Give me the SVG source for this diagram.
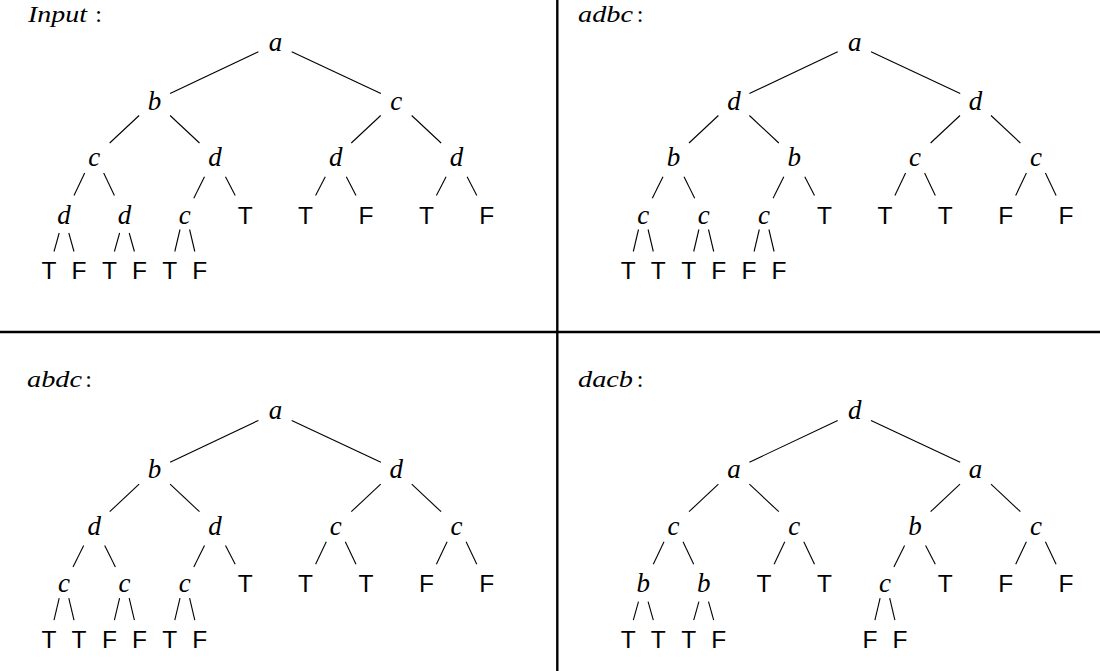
<svg xmlns="http://www.w3.org/2000/svg" width="1100" height="671" viewBox="0 0 1100 671">
<style>
.bg{fill:#fff}
.rule{stroke:#000;stroke-width:2.4;fill:none}
.edges line{stroke:#000;stroke-width:1.1;stroke-linecap:butt}
.v{font-family:"Liberation Serif","Times New Roman",serif;font-style:italic;font-size:27px;text-anchor:middle;fill:#000}
.t{font-family:"Liberation Sans",Arial,sans-serif;font-size:24.5px;text-anchor:middle;fill:#000}
.lbl{font-family:"Liberation Serif","Times New Roman",serif;font-style:italic;font-size:24px;fill:#000}
.col{font-family:"Liberation Serif","Times New Roman",serif;font-size:24px;text-anchor:middle;fill:#000}
</style>
<rect class="bg" x="0" y="0" width="1100" height="671"/>
<g id="rules">
<line class="rule" x1="557.3" y1="0" x2="557.3" y2="671"/>
<line class="rule" x1="0" y1="332" x2="1100" y2="332"/>
</g>
<g id="labels">
<text class="lbl" x="28" y="21.5" textLength="59" lengthAdjust="spacingAndGlyphs">Input</text><text class="col" x="98.5" y="21.5">:</text>
<text class="lbl" x="578" y="21.5" textLength="55" lengthAdjust="spacingAndGlyphs">adbc</text><text class="col" x="640" y="21.5">:</text>
<text class="lbl" x="27" y="387.3" textLength="55" lengthAdjust="spacingAndGlyphs">abdc</text><text class="col" x="88.5" y="387.3">:</text>
<text class="lbl" x="578" y="387.3" textLength="55" lengthAdjust="spacingAndGlyphs">dacb</text><text class="col" x="640" y="387.3">:</text>
</g>

<!-- Panel 1: Input -->
<g id="panel-input">
<g id="p1-edges" class="edges">
<line x1="258.4" y1="51.7" x2="170.1" y2="93.5"/><line x1="291.7" y1="51.7" x2="380.9" y2="93.5"/>
<line x1="139.1" y1="115.5" x2="109.7" y2="143"/><line x1="170.1" y1="115.5" x2="199.5" y2="143"/>
<line x1="380.7" y1="115.5" x2="351.3" y2="143"/><line x1="411.7" y1="115.5" x2="441.1" y2="143"/>
<line x1="84.7" y1="173" x2="74" y2="195.5"/><line x1="103.7" y1="173" x2="114.4" y2="195.5"/>
<line x1="204.5" y1="176.7" x2="193.8" y2="198.3"/><line x1="225.5" y1="176.7" x2="235.2" y2="195.5"/>
<line x1="325.3" y1="176.7" x2="315.6" y2="195.5"/><line x1="346.3" y1="176.7" x2="356" y2="195.5"/>
<line x1="446.1" y1="176.7" x2="436.4" y2="195.5"/><line x1="467.1" y1="176.7" x2="476.8" y2="195.5"/>
<line x1="59.2" y1="233" x2="54" y2="251.5"/><line x1="68.8" y1="233" x2="74" y2="251.5"/>
<line x1="119.6" y1="233" x2="114.4" y2="251.5"/><line x1="129.2" y1="233" x2="134.4" y2="251.5"/>
<line x1="180" y1="229.5" x2="174.8" y2="251.5"/><line x1="189.6" y1="229.5" x2="194.8" y2="251.5"/>
</g>
<g id="p1-n1"><text class="v" x="275.4" y="50.5">a</text></g>
<g id="p1-n2"><text class="v" x="154.6" y="109.5">b</text></g>
<g id="p1-n3"><text class="v" x="396.2" y="109.5">c</text></g>
<g id="p1-n4"><text class="v" x="94.2" y="166">c</text></g>
<g id="p1-n5"><text class="v" x="215" y="166">d</text></g>
<g id="p1-n6"><text class="v" x="335.8" y="166">d</text></g>
<g id="p1-n7"><text class="v" x="456.6" y="166">d</text></g>
<g id="p1-n8"><text class="v" x="64" y="223.5">d</text></g>
<g id="p1-n9"><text class="v" x="124.4" y="223.5">d</text></g>
<g id="p1-n10"><text class="v" x="184.8" y="223.5">c</text></g>
<g id="p1-n11"><text class="t" x="245.2" y="223.5">T</text></g>
<g id="p1-n12"><text class="t" x="305.6" y="223.5">T</text></g>
<g id="p1-n13"><text class="t" x="366" y="223.5">F</text></g>
<g id="p1-n14"><text class="t" x="426.4" y="223.5">T</text></g>
<g id="p1-n15"><text class="t" x="486.8" y="223.5">F</text></g>
<g id="p1-n16"><text class="t" x="49" y="279.3">T</text></g>
<g id="p1-n17"><text class="t" x="79" y="279.3">F</text></g>
<g id="p1-n18"><text class="t" x="109.4" y="279.3">T</text></g>
<g id="p1-n19"><text class="t" x="139.4" y="279.3">F</text></g>
<g id="p1-n20"><text class="t" x="169.8" y="279.3">T</text></g>
<g id="p1-n21"><text class="t" x="199.8" y="279.3">F</text></g>
</g>

<!-- Panel 2: adbc -->
<g id="panel-adbc" transform="translate(579.3,0)">
<g id="p2-edges" class="edges">
<line x1="258.4" y1="51.7" x2="170.1" y2="93.5"/><line x1="291.7" y1="51.7" x2="380.9" y2="93.5"/>
<line x1="139.1" y1="115.5" x2="109.7" y2="143"/><line x1="170.1" y1="115.5" x2="199.5" y2="143"/>
<line x1="380.7" y1="115.5" x2="351.3" y2="143"/><line x1="411.7" y1="115.5" x2="441.1" y2="143"/>
<line x1="83.7" y1="176.7" x2="73" y2="198.3"/><line x1="104.7" y1="176.7" x2="115.4" y2="198.3"/>
<line x1="204.5" y1="176.7" x2="193.8" y2="198.3"/><line x1="225.5" y1="176.7" x2="235.2" y2="195.5"/>
<line x1="326.3" y1="173" x2="315.6" y2="195.5"/><line x1="345.3" y1="173" x2="356" y2="195.5"/>
<line x1="447.1" y1="173" x2="436.4" y2="195.5"/><line x1="466.1" y1="173" x2="476.8" y2="195.5"/>
<line x1="59.2" y1="229.5" x2="54" y2="251.5"/><line x1="68.8" y1="229.5" x2="74" y2="251.5"/>
<line x1="119.6" y1="229.5" x2="114.4" y2="251.5"/><line x1="129.2" y1="229.5" x2="134.4" y2="251.5"/>
<line x1="180" y1="229.5" x2="174.8" y2="251.5"/><line x1="189.6" y1="229.5" x2="194.8" y2="251.5"/>
</g>
<g id="p2-n1"><text class="v" x="275.4" y="50.5">a</text></g>
<g id="p2-n2"><text class="v" x="154.6" y="109.5">d</text></g>
<g id="p2-n3"><text class="v" x="396.2" y="109.5">d</text></g>
<g id="p2-n4"><text class="v" x="94.2" y="166">b</text></g>
<g id="p2-n5"><text class="v" x="215" y="166">b</text></g>
<g id="p2-n6"><text class="v" x="335.8" y="166">c</text></g>
<g id="p2-n7"><text class="v" x="456.6" y="166">c</text></g>
<g id="p2-n8"><text class="v" x="64" y="223.5">c</text></g>
<g id="p2-n9"><text class="v" x="124.4" y="223.5">c</text></g>
<g id="p2-n10"><text class="v" x="184.8" y="223.5">c</text></g>
<g id="p2-n11"><text class="t" x="245.2" y="223.5">T</text></g>
<g id="p2-n12"><text class="t" x="305.6" y="223.5">T</text></g>
<g id="p2-n13"><text class="t" x="366" y="223.5">T</text></g>
<g id="p2-n14"><text class="t" x="426.4" y="223.5">F</text></g>
<g id="p2-n15"><text class="t" x="486.8" y="223.5">F</text></g>
<g id="p2-n16"><text class="t" x="49" y="279.3">T</text></g>
<g id="p2-n17"><text class="t" x="79" y="279.3">T</text></g>
<g id="p2-n18"><text class="t" x="109.4" y="279.3">T</text></g>
<g id="p2-n19"><text class="t" x="139.4" y="279.3">F</text></g>
<g id="p2-n20"><text class="t" x="169.8" y="279.3">F</text></g>
<g id="p2-n21"><text class="t" x="199.8" y="279.3">F</text></g>
</g>

<!-- Panel 3: abdc -->
<g id="panel-abdc" transform="translate(0,368.7)">
<g id="p3-edges" class="edges">
<line x1="258.4" y1="51.7" x2="170.1" y2="93.5"/><line x1="291.7" y1="51.7" x2="380.9" y2="93.5"/>
<line x1="139.1" y1="115.5" x2="109.7" y2="143"/><line x1="170.1" y1="115.5" x2="199.5" y2="143"/>
<line x1="380.7" y1="115.5" x2="351.3" y2="143"/><line x1="411.7" y1="115.5" x2="441.1" y2="143"/>
<line x1="83.7" y1="176.7" x2="73" y2="198.3"/><line x1="104.7" y1="176.7" x2="115.4" y2="198.3"/>
<line x1="204.5" y1="176.7" x2="193.8" y2="198.3"/><line x1="225.5" y1="176.7" x2="235.2" y2="195.5"/>
<line x1="326.3" y1="173" x2="315.6" y2="195.5"/><line x1="345.3" y1="173" x2="356" y2="195.5"/>
<line x1="447.1" y1="173" x2="436.4" y2="195.5"/><line x1="466.1" y1="173" x2="476.8" y2="195.5"/>
<line x1="59.2" y1="229.5" x2="54" y2="251.5"/><line x1="68.8" y1="229.5" x2="74" y2="251.5"/>
<line x1="119.6" y1="229.5" x2="114.4" y2="251.5"/><line x1="129.2" y1="229.5" x2="134.4" y2="251.5"/>
<line x1="180" y1="229.5" x2="174.8" y2="251.5"/><line x1="189.6" y1="229.5" x2="194.8" y2="251.5"/>
</g>
<g id="p3-n1"><text class="v" x="275.4" y="50.5">a</text></g>
<g id="p3-n2"><text class="v" x="154.6" y="109.5">b</text></g>
<g id="p3-n3"><text class="v" x="396.2" y="109.5">d</text></g>
<g id="p3-n4"><text class="v" x="94.2" y="166">d</text></g>
<g id="p3-n5"><text class="v" x="215" y="166">d</text></g>
<g id="p3-n6"><text class="v" x="335.8" y="166">c</text></g>
<g id="p3-n7"><text class="v" x="456.6" y="166">c</text></g>
<g id="p3-n8"><text class="v" x="64" y="223.5">c</text></g>
<g id="p3-n9"><text class="v" x="124.4" y="223.5">c</text></g>
<g id="p3-n10"><text class="v" x="184.8" y="223.5">c</text></g>
<g id="p3-n11"><text class="t" x="245.2" y="223.5">T</text></g>
<g id="p3-n12"><text class="t" x="305.6" y="223.5">T</text></g>
<g id="p3-n13"><text class="t" x="366" y="223.5">T</text></g>
<g id="p3-n14"><text class="t" x="426.4" y="223.5">F</text></g>
<g id="p3-n15"><text class="t" x="486.8" y="223.5">F</text></g>
<g id="p3-n16"><text class="t" x="49" y="279.3">T</text></g>
<g id="p3-n17"><text class="t" x="79" y="279.3">T</text></g>
<g id="p3-n18"><text class="t" x="109.4" y="279.3">F</text></g>
<g id="p3-n19"><text class="t" x="139.4" y="279.3">F</text></g>
<g id="p3-n20"><text class="t" x="169.8" y="279.3">T</text></g>
<g id="p3-n21"><text class="t" x="199.8" y="279.3">F</text></g>
</g>

<!-- Panel 4: dacb -->
<g id="panel-dacb" transform="translate(579.3,368.7)">
<g id="p4-edges" class="edges">
<line x1="258.4" y1="51.7" x2="170.1" y2="93.5"/><line x1="291.7" y1="51.7" x2="380.9" y2="93.5"/>
<line x1="139.1" y1="115.5" x2="109.7" y2="143"/><line x1="170.1" y1="115.5" x2="199.5" y2="143"/>
<line x1="380.7" y1="115.5" x2="351.3" y2="143"/><line x1="411.7" y1="115.5" x2="441.1" y2="143"/>
<line x1="84.7" y1="173" x2="74" y2="195.5"/><line x1="103.7" y1="173" x2="114.4" y2="195.5"/>
<line x1="205.5" y1="173" x2="194.8" y2="195.5"/><line x1="224.5" y1="173" x2="235.2" y2="195.5"/>
<line x1="325.3" y1="176.7" x2="314.6" y2="198.3"/><line x1="346.3" y1="176.7" x2="356" y2="195.5"/>
<line x1="447.1" y1="173" x2="436.4" y2="195.5"/><line x1="466.1" y1="173" x2="476.8" y2="195.5"/>
<line x1="59.2" y1="233" x2="54" y2="251.5"/><line x1="68.8" y1="233" x2="74" y2="251.5"/>
<line x1="119.6" y1="233" x2="114.4" y2="251.5"/><line x1="129.2" y1="233" x2="134.4" y2="251.5"/>
<line x1="300.8" y1="229.5" x2="295.6" y2="251.5"/><line x1="310.4" y1="229.5" x2="315.6" y2="251.5"/>
</g>
<g id="p4-n1"><text class="v" x="275.4" y="50.5">d</text></g>
<g id="p4-n2"><text class="v" x="154.6" y="109.5">a</text></g>
<g id="p4-n3"><text class="v" x="396.2" y="109.5">a</text></g>
<g id="p4-n4"><text class="v" x="94.2" y="166">c</text></g>
<g id="p4-n5"><text class="v" x="215" y="166">c</text></g>
<g id="p4-n6"><text class="v" x="335.8" y="166">b</text></g>
<g id="p4-n7"><text class="v" x="456.6" y="166">c</text></g>
<g id="p4-n8"><text class="v" x="64" y="223.5">b</text></g>
<g id="p4-n9"><text class="v" x="124.4" y="223.5">b</text></g>
<g id="p4-n10"><text class="t" x="184.8" y="223.5">T</text></g>
<g id="p4-n11"><text class="t" x="245.2" y="223.5">T</text></g>
<g id="p4-n12"><text class="v" x="305.6" y="223.5">c</text></g>
<g id="p4-n13"><text class="t" x="366" y="223.5">T</text></g>
<g id="p4-n14"><text class="t" x="426.4" y="223.5">F</text></g>
<g id="p4-n15"><text class="t" x="486.8" y="223.5">F</text></g>
<g id="p4-n16"><text class="t" x="49" y="279.3">T</text></g>
<g id="p4-n17"><text class="t" x="79" y="279.3">T</text></g>
<g id="p4-n18"><text class="t" x="109.4" y="279.3">T</text></g>
<g id="p4-n19"><text class="t" x="139.4" y="279.3">F</text></g>
<g id="p4-n20"><text class="t" x="290.6" y="279.3">F</text></g>
<g id="p4-n21"><text class="t" x="320.6" y="279.3">F</text></g>
</g>
</svg>
